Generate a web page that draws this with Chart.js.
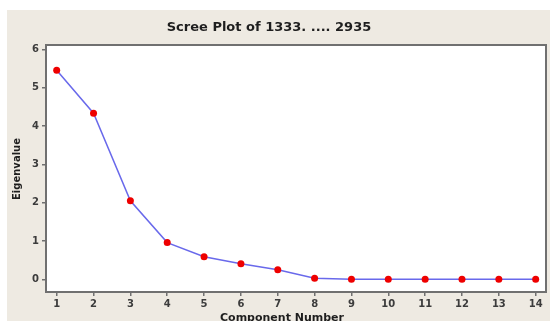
<!DOCTYPE html>
<html>
<head>
<meta charset="utf-8">
<script src="https://cdn.jsdelivr.net/npm/chart.js@4/dist/chart.umd.min.js"></script>
<style>
  html, body { margin: 0; padding: 0; background: #ffffff; }
  canvas { display: block; }
</style>
</head>
<body>
<canvas id="scree" width="550" height="321"></canvas>
<script>
// Component numbers and their eigenvalues
const components = [1, 2, 3, 4, 5, 6, 7, 8, 9, 10, 11, 12, 13, 14];
const eigenvalues = [5.46, 4.34, 2.05, 0.96, 0.59, 0.41, 0.25, 0.03, 0.00, 0.00, 0.00, 0.00, 0.00, 0.00];

// Axis tick values
const xTickValues = [1, 2, 3, 4, 5, 6, 7, 8, 9, 10, 11, 12, 13, 14];
const yTickValues = [0, 1, 2, 3, 4, 5, 6];

const chartTitle = 'Scree Plot of 1333. .... 2935';
const xTitle = 'Component Number';
const yTitle = 'Eigenvalue';

const FRAME = '#707070';
const PANEL = '#eeeae2';
const TICK_TEXT = '#3c3c3c';
const FONT = '"DejaVu Sans", Verdana, sans-serif';

// Panel background, white plot area, frame and titles
const decor = {
  id: 'decor',
  beforeDraw(chart) {
    const { ctx, chartArea: a } = chart;
    ctx.save();
    ctx.fillStyle = '#ffffff';
    ctx.fillRect(0, 0, chart.width, chart.height);
    ctx.fillStyle = PANEL;
    ctx.fillRect(7, 10, chart.width - 7, chart.height - 10);
    ctx.fillStyle = '#ffffff';
    ctx.fillRect(a.left, a.top, a.right - a.left, a.bottom - a.top);
    ctx.restore();
  },
  afterDraw(chart) {
    const { ctx, chartArea: a } = chart;
    ctx.save();
    ctx.strokeStyle = FRAME;
    ctx.lineWidth = 2;
    ctx.strokeRect(a.left, a.top, a.right - a.left, a.bottom - a.top);

    ctx.fillStyle = '#1e1e1e';
    ctx.textAlign = 'center';
    ctx.textBaseline = 'middle';
    ctx.font = 'bold 13px ' + FONT;
    ctx.fillText(chartTitle, 269, 28);

    ctx.font = 'bold 11px ' + FONT;
    ctx.textBaseline = 'top';
    ctx.fillText(xTitle, 282, 313);

    ctx.translate(17, 169);
    ctx.rotate(-Math.PI / 2);
    ctx.font = 'bold 10px ' + FONT;
    ctx.textBaseline = 'middle';
    ctx.fillText(yTitle, 0, 0);
    ctx.restore();
  }
};

const axisCommon = {
  type: 'linear',
  grid: {
    display: true,
    drawOnChartArea: false,
    drawTicks: true,
    tickLength: 4,
    color: FRAME,
    lineWidth: 1.5
  },
  border: { display: true, color: FRAME, width: 2 },
  ticks: {
    color: TICK_TEXT,
    font: { family: FONT, size: 10, weight: '600' },
    padding: 2
  }
};

new Chart(document.getElementById('scree'), {
  type: 'line',
  data: {
    datasets: [{
      data: components.map((c, i) => ({ x: c, y: eigenvalues[i] })),
      borderColor: 'rgb(105,105,235)',
      borderWidth: 1.5,
      pointBackgroundColor: '#ee0000',
      pointBorderColor: '#ee0000',
      pointRadius: 3.5,
      pointBorderWidth: 0,
      tension: 0,
      clip: false
    }]
  },
  options: {
    responsive: false,
    animation: false,
    devicePixelRatio: 1,
    layout: { padding: { left: 7, top: 45, right: 1, bottom: 0 } },
    plugins: {
      legend: { display: false },
      title: { display: false },
      tooltip: { enabled: false }
    },
    scales: {
      x: {
        ...axisCommon,
        min: 0.71,
        max: 14.28,
        afterBuildTicks(s) { s.ticks = xTickValues.map(v => ({ value: v })); },
        afterFit(s) { s.height = 29; },
        ticks: { ...axisCommon.ticks, maxRotation: 0, autoSkip: false }
      },
      y: {
        ...axisCommon,
        min: -0.33,
        max: 6.12,
        afterBuildTicks(s) { s.ticks = yTickValues.map(v => ({ value: v })); },
        afterFit(s) { s.width = 39; },
        ticks: { ...axisCommon.ticks, padding: 3 }
      }
    }
  },
  plugins: [decor]
});
</script>
</body>
</html>
